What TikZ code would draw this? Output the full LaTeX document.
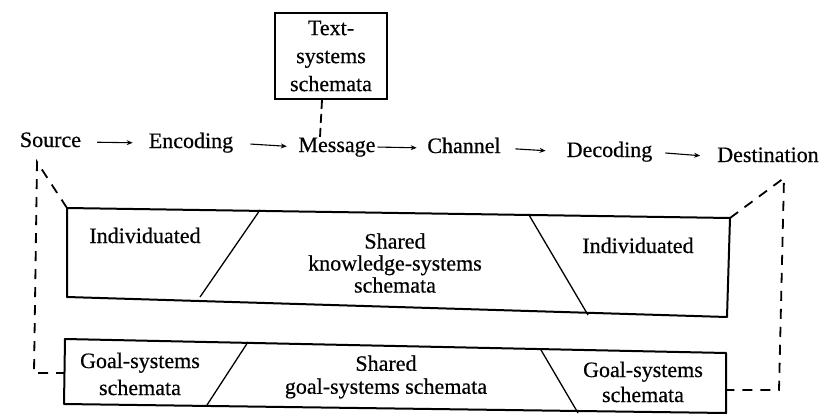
\documentclass[tikz,border=0pt]{standalone}
\usepackage{fontspec}
\setmainfont{Liberation Serif}[FakeBold=0.5]
\usetikzlibrary{arrows.meta}
\begin{document}
\begin{tikzpicture}[x=1pt,y=-1pt,
  lbl/.style={inner sep=0pt, font=\fontsize{22}{24}\selectfont},
  rowlbl/.style={lbl, text height=15pt, text depth=5pt, anchor=base},
  arr/.style={line width=1.1pt, -{Stealth[length=6pt,width=5pt]}},
  boxline/.style={line width=2pt, line join=round},
  diag/.style={line width=1.3pt},
  dashline/.style={line width=1.8pt, dash pattern=on 10pt off 8pt}]
\useasboundingbox (0,0) rectangle (837,417);

% top text box
\node[draw, line width=2pt, minimum width=112pt, minimum height=86pt, inner sep=0pt,
  align=center, font=\fontsize{22}{28}\selectfont] (tbox) at (331,56) {Text-\\systems\\schemata};

% row
\node[rowlbl] (src) at (50.5,147) {Source};
\node[rowlbl] (enc) at (191,148) {Encoding};
\node[rowlbl] (msg) at (337,152) {Message};
\node[rowlbl] (chn) at (464,153) {Channel};
\node[rowlbl] (dec) at (609.5,157) {Decoding};
\node[rowlbl] (dst) at (768,162) {Destination};

\draw[arr, shorten <=16pt, shorten >=16pt] (src.east) -- (enc.west);
\draw[arr, shorten <=17pt, shorten >=11.5pt] (enc.east) -- (msg.west);
\draw[arr, shorten <=2pt, shorten >=10.5pt] (msg.east) -- (chn.west);
\draw[arr, shorten <=14.5pt, shorten >=21pt] (chn.east) -- (dec.west);
\draw[arr, shorten <=13pt, shorten >=17pt] (dec.east) -- (dst.west);

% dashed from text box to message
\coordinate (mtop) at (320,137);
\draw[line width=1.8pt, dash pattern=on 9pt off 5pt] (tbox.south -| 322,0) -- (mtop);

% upper box
\coordinate (u1) at (67,208);
\coordinate (u2) at (730,218);
\coordinate (u3) at (727,317);
\coordinate (u4) at (67,297);
\draw[boxline] (u1) -- (u2) -- (u3) -- (u4) -- cycle;
\draw[diag] (260,210) -- (200,297);
\draw[diag] (529,215) -- (588,315);

% lower box
\coordinate (l1) at (65,339);
\coordinate (l2) at (726,353);
\coordinate (l3) at (726,413);
\coordinate (l4) at (64,404);
\draw[boxline] (l1) -- (l2) -- (l3) -- (l4) -- cycle;
\draw[diag] (248,342) -- (207,405);
\draw[diag] (541,350) -- (578,413);

% labels in boxes
\node[lbl, anchor=base] (ind1) at (145,243) {Individuated};
\node[lbl, anchor=base] (ind2) at (638,253) {Individuated};
\node[lbl, align=center, font=\fontsize{22}{22}\selectfont] (shk) at (395,263) {Shared\\knowledge-systems\\schemata};
\node[lbl, align=center, font=\fontsize{22}{27}\selectfont] (gs1) at (140,374) {Goal-systems\\schemata};
\node[lbl, align=center, font=\fontsize{22}{23}\selectfont] (shg) at (386,377) {Shared\\goal-systems schemata};
\node[lbl, align=center, font=\fontsize{22}{25}\selectfont] (gs2) at (643,382) {Goal-systems\\schemata};

% dashed side connectors
\coordinate (lt) at (37,162);
\coordinate (lb) at (34,373);
\coordinate (lbl) at (65,373);
\draw[dashline] (u1) -- (lt) -- (lb) -- (lbl);
\coordinate (rt) at (784,178);
\coordinate (rb) at (779,390);
\coordinate (rbl) at (726,390);
\draw[dashline] (u2) -- (rt) -- (rb) -- (rbl);
\end{tikzpicture}
\end{document}
